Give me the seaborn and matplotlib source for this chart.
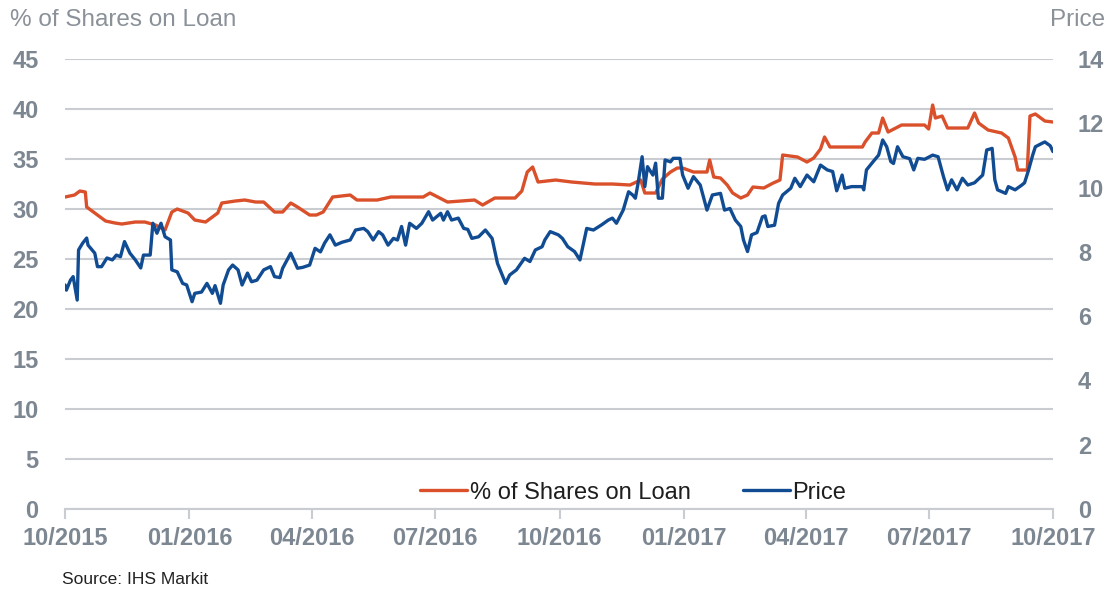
import numpy as np
import pandas as pd
import matplotlib
matplotlib.use("Agg")
import matplotlib.pyplot as plt
import matplotlib.dates as mdates
import seaborn as sns

# % of shares on loan
loan_dates = [
    "2015-10-01", "2015-10-08", "2015-10-12", "2015-10-16", "2015-10-17", "2015-10-23",
    "2015-10-31", "2015-11-07", "2015-11-12", "2015-11-22", "2015-11-29", "2015-12-07",
    "2015-12-14", "2015-12-19", "2015-12-23", "2015-12-31", "2016-01-05", "2016-01-13",
    "2016-01-22", "2016-01-25", "2016-02-04", "2016-02-11", "2016-02-19", "2016-02-25",
    "2016-03-04", "2016-03-10", "2016-03-16", "2016-03-21", "2016-03-30", "2016-04-04",
    "2016-04-09", "2016-04-16", "2016-04-29", "2016-05-04", "2016-05-19", "2016-05-29",
    "2016-06-22", "2016-06-27", "2016-07-10", "2016-07-30", "2016-08-05", "2016-08-14",
    "2016-08-29", "2016-09-03", "2016-09-07", "2016-09-11", "2016-09-15", "2016-09-28",
    "2016-10-10", "2016-10-27", "2016-11-09", "2016-11-22", "2016-11-30", "2016-12-03",
    "2016-12-11", "2016-12-16", "2016-12-22", "2016-12-27", "2016-12-31", "2017-01-08",
    "2017-01-18", "2017-01-20", "2017-01-23", "2017-01-28", "2017-02-02", "2017-02-06",
    "2017-02-12", "2017-02-17", "2017-02-21", "2017-03-01", "2017-03-08", "2017-03-13",
    "2017-03-15", "2017-03-26", "2017-04-02", "2017-04-07", "2017-04-12", "2017-04-15",
    "2017-04-19", "2017-04-30", "2017-05-13", "2017-05-15", "2017-05-20", "2017-05-25",
    "2017-05-28", "2017-06-01", "2017-06-11", "2017-06-28", "2017-07-01", "2017-07-04",
    "2017-07-06", "2017-07-11", "2017-07-15", "2017-07-30", "2017-08-04", "2017-08-07",
    "2017-08-14", "2017-08-24", "2017-08-29", "2017-09-03", "2017-09-05", "2017-09-12",
    "2017-09-14", "2017-09-18", "2017-09-25", "2017-10-01",
]
loan_pct = [
    31.2, 31.4, 31.8, 31.7, 30.2, 29.6,
    28.8, 28.6, 28.5, 28.7, 28.7, 28.4,
    27.9, 29.7, 30.0, 29.6, 28.9, 28.7,
    29.6, 30.6, 30.8, 30.9, 30.7, 30.7,
    29.7, 29.7, 30.6, 30.2, 29.4, 29.4,
    29.7, 31.2, 31.4, 30.9, 30.9, 31.2,
    31.2, 31.6, 30.7, 30.9, 30.4, 31.1,
    31.1, 31.8, 33.7, 34.2, 32.7, 32.9,
    32.7, 32.5, 32.5, 32.4, 32.9, 31.6,
    31.6, 33.0, 33.7, 34.1, 34.1, 33.7,
    33.7, 34.9, 33.2, 33.1, 32.4, 31.6,
    31.1, 31.4, 32.2, 32.1, 32.6, 32.9,
    35.4, 35.2, 34.7, 35.1, 36.0, 37.2,
    36.2, 36.2, 36.2, 36.7, 37.6, 37.6,
    39.1, 37.7, 38.4, 38.4, 38.0, 40.4,
    39.1, 39.3, 38.1, 38.1, 39.6, 38.6,
    37.9, 37.6, 37.1, 35.2, 33.9, 33.9,
    39.3, 39.5, 38.8, 38.7,
]

# share price
price_dates = [
    "2015-10-01", "2015-10-02", "2015-10-05", "2015-10-07", "2015-10-10", "2015-10-11",
    "2015-10-14", "2015-10-17", "2015-10-18", "2015-10-23", "2015-10-25", "2015-10-28",
    "2015-11-01", "2015-11-05", "2015-11-08", "2015-11-11", "2015-11-14", "2015-11-18",
    "2015-11-22", "2015-11-26", "2015-11-28", "2015-12-03", "2015-12-05", "2015-12-08",
    "2015-12-11", "2015-12-14", "2015-12-18", "2015-12-19", "2015-12-23", "2015-12-27",
    "2015-12-30", "2016-01-03", "2016-01-05", "2016-01-10", "2016-01-14", "2016-01-18",
    "2016-01-20", "2016-01-24", "2016-01-26", "2016-01-30", "2016-02-02", "2016-02-06",
    "2016-02-09", "2016-02-13", "2016-02-16", "2016-02-20", "2016-02-25", "2016-03-01",
    "2016-03-04", "2016-03-08", "2016-03-10", "2016-03-16", "2016-03-21", "2016-03-25",
    "2016-03-30", "2016-04-03", "2016-04-07", "2016-04-10", "2016-04-14", "2016-04-18",
    "2016-04-23", "2016-04-29", "2016-05-03", "2016-05-09", "2016-05-12", "2016-05-16",
    "2016-05-20", "2016-05-23", "2016-05-27", "2016-05-31", "2016-06-03", "2016-06-06",
    "2016-06-09", "2016-06-12", "2016-06-17", "2016-06-21", "2016-06-26", "2016-06-29",
    "2016-07-05", "2016-07-07", "2016-07-10", "2016-07-13", "2016-07-18", "2016-07-22",
    "2016-07-25", "2016-07-28", "2016-08-02", "2016-08-07", "2016-08-12", "2016-08-16",
    "2016-08-19", "2016-08-22", "2016-08-25", "2016-08-30", "2016-09-05", "2016-09-09",
    "2016-09-13", "2016-09-18", "2016-09-20", "2016-09-24", "2016-09-30", "2016-10-03",
    "2016-10-07", "2016-10-12", "2016-10-16", "2016-10-21", "2016-10-26", "2016-11-01",
    "2016-11-06", "2016-11-09", "2016-11-12", "2016-11-17", "2016-11-21", "2016-11-24",
    "2016-11-26", "2016-11-28", "2016-12-01", "2016-12-03", "2016-12-05", "2016-12-09",
    "2016-12-11", "2016-12-13", "2016-12-16", "2016-12-18", "2016-12-22", "2016-12-24",
    "2016-12-29", "2016-12-31", "2017-01-04", "2017-01-08", "2017-01-13", "2017-01-18",
    "2017-01-22", "2017-01-28", "2017-01-31", "2017-02-04", "2017-02-08", "2017-02-12",
    "2017-02-14", "2017-02-17", "2017-02-20", "2017-02-24", "2017-02-28", "2017-03-02",
    "2017-03-04", "2017-03-09", "2017-03-12", "2017-03-15", "2017-03-21", "2017-03-24",
    "2017-03-28", "2017-04-02", "2017-04-07", "2017-04-12", "2017-04-17", "2017-04-21",
    "2017-04-24", "2017-04-28", "2017-04-30", "2017-05-05", "2017-05-13", "2017-05-14",
    "2017-05-16", "2017-05-21", "2017-05-25", "2017-05-28", "2017-05-31", "2017-06-03",
    "2017-06-05", "2017-06-08", "2017-06-12", "2017-06-17", "2017-06-20", "2017-06-23",
    "2017-06-28", "2017-07-04", "2017-07-08", "2017-07-12", "2017-07-15", "2017-07-18",
    "2017-07-22", "2017-07-26", "2017-07-30", "2017-08-04", "2017-08-10", "2017-08-13",
    "2017-08-17", "2017-08-19", "2017-08-21", "2017-08-27", "2017-08-29", "2017-09-03",
    "2017-09-08", "2017-09-10", "2017-09-13", "2017-09-16", "2017-09-18", "2017-09-23",
    "2017-09-25", "2017-09-29", "2017-10-01",
]
price = [
    6.97, 6.81, 7.12, 7.23, 6.50, 8.06,
    8.27, 8.43, 8.21, 7.96, 7.54, 7.54,
    7.81, 7.75, 7.90, 7.85, 8.32, 7.96,
    7.75, 7.50, 7.90, 7.90, 8.89, 8.58,
    8.89, 8.47, 8.37, 7.44, 7.38, 7.02,
    6.97, 6.45, 6.71, 6.75, 7.02, 6.71,
    6.95, 6.40, 6.97, 7.44, 7.59, 7.44,
    6.97, 7.34, 7.07, 7.12, 7.44, 7.54,
    7.23, 7.20, 7.49, 7.96, 7.49, 7.52,
    7.59, 8.11, 8.00, 8.27, 8.53, 8.21,
    8.30, 8.37, 8.68, 8.73, 8.63, 8.37,
    8.63, 8.53, 8.21, 8.42, 8.37, 8.79,
    8.21, 8.89, 8.73, 8.89, 9.25, 8.99,
    9.20, 8.99, 9.25, 8.99, 9.05, 8.73,
    8.70, 8.42, 8.47, 8.68, 8.42, 7.64,
    7.33, 7.02, 7.28, 7.44, 7.80, 7.70,
    8.06, 8.16, 8.37, 8.63, 8.53, 8.42,
    8.16, 8.01, 7.75, 8.73, 8.68, 8.84,
    8.99, 9.05, 8.89, 9.30, 9.87, 9.77,
    9.67, 10.13, 10.96, 10.03, 10.65, 10.39,
    10.76, 9.67, 9.67, 10.86, 10.80, 10.91,
    10.91, 10.39, 9.98, 10.34, 10.08, 9.30,
    9.77, 9.82, 9.30, 9.35, 8.99, 8.79,
    8.37, 8.01, 8.53, 8.60, 9.09, 9.12,
    8.79, 8.83, 9.51, 9.77, 9.98, 10.29,
    10.03, 10.39, 10.18, 10.70, 10.55, 10.50,
    9.90, 10.39, 9.98, 10.03, 10.03, 9.93,
    10.55, 10.81, 11.01, 11.48, 11.27, 10.81,
    10.75, 11.27, 10.96, 10.90, 10.55, 10.91,
    10.88, 11.01, 10.96, 10.34, 9.93, 10.24,
    9.93, 10.29, 10.08, 10.15, 10.39, 11.17,
    11.22, 10.24, 9.93, 9.82, 10.03, 9.93,
    10.08, 10.15, 10.55, 11.01, 11.27, 11.38,
    11.42, 11.30, 11.12,
]

quarter_ticks = ["2015-10-01", "2016-01-01", "2016-04-01", "2016-07-01", "2016-10-01",
                 "2017-01-01", "2017-04-01", "2017-07-01", "2017-10-01"]

loan_df = pd.DataFrame({"date": pd.to_datetime(loan_dates), "value": loan_pct})
price_df = pd.DataFrame({"date": pd.to_datetime(price_dates), "value": price})

sns.set_theme(style="white")
plt.rcParams["font.family"] = ["Liberation Sans", "DejaVu Sans"]

ORANGE = "#d9502b"
BLUE = "#114c93"
TICK_GREY = "#7d8792"
GRID = "#c9cdd1"

fig = plt.figure(figsize=(11.10, 5.89), dpi=100)
ax = fig.add_axes([0.0586, 0.1358, 0.890, 0.764])
ax2 = ax.twinx()

sns.lineplot(data=loan_df, x="date", y="value", ax=ax, color=ORANGE,
             linewidth=2.4, label="% of Shares on Loan", legend=False)
sns.lineplot(data=price_df, x="date", y="value", ax=ax2, color=BLUE,
             linewidth=2.4, label="Price", legend=False)

ax.set_ylim(0, 45)
ax.set_yticks(np.arange(0, 46, 5))
ax2.set_ylim(0, 14)
ax2.set_yticks(np.arange(0, 15, 2))
ax.set_xlim(pd.Timestamp("2015-10-01"), pd.Timestamp("2017-10-01"))
ax.set_xticks(pd.to_datetime(quarter_ticks))
ax.xaxis.set_major_formatter(mdates.DateFormatter("%m/%Y"))

ax.grid(axis="y", color=GRID, linewidth=1.5)
ax.grid(axis="x", visible=False)
ax.set_axisbelow(True)
for a in (ax, ax2):
    a.set_xlabel("")
    a.set_ylabel("")
    for side in ("top", "left", "right", "bottom"):
        a.spines[side].set_visible(False)
ax.spines["bottom"].set_visible(True)
ax.spines["bottom"].set_color(GRID)
ax.spines["bottom"].set_linewidth(1.5)

ax.tick_params(axis="x", bottom=True, length=7, width=1.5, color=GRID, pad=6,
               labelsize=17, labelcolor=TICK_GREY)
ax.tick_params(axis="y", left=False, pad=13, labelsize=17, labelcolor=TICK_GREY)
ax2.tick_params(axis="y", right=False, pad=12, labelsize=17, labelcolor=TICK_GREY)
for lab in ax.get_xticklabels() + ax.get_yticklabels() + ax2.get_yticklabels():
    lab.set_fontweight("bold")

fig.text(0.009, 0.966, "% of Shares on Loan", fontsize=17.5, color="#8a9199",
         ha="left", va="center")
fig.text(0.996, 0.966, "Price", fontsize=17.5, color="#8a9199",
         ha="right", va="center")
fig.text(0.056, 0.004, "Source: IHS Markit", fontsize=12.5, color="#222222",
         ha="left", va="bottom", family=["Liberation Sans Narrow", "Liberation Sans"])

h1, l1 = ax.get_legend_handles_labels()
h2, l2 = ax2.get_legend_handles_labels()
leg = ax2.legend(h1 + h2, l1 + l2, loc="lower center", bbox_to_anchor=(0.575, -0.035),
                 ncol=2, frameon=False, fontsize=17, handlelength=2.0,
                 handletextpad=0.1, columnspacing=2.2)
for t in leg.get_texts():
    t.set_color("#1e1e1e")

fig.savefig("out.png", dpi=100)
